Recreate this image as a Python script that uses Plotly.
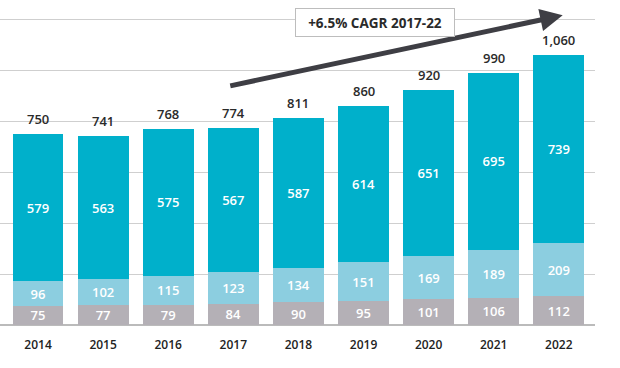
import plotly.graph_objects as go

years = ["2014", "2015", "2016", "2017", "2018", "2019", "2020", "2021", "2022"]
base_vals = [75, 77, 79, 84, 90, 95, 101, 106, 112]
mid_vals = [96, 102, 115, 123, 134, 151, 169, 189, 209]
top_vals = [579, 563, 575, 567, 587, 614, 651, 695, 739]
totals = [750, 741, 768, 774, 811, 860, 920, 990, 1060]
total_labels = ["750", "741", "768", "774", "811", "860", "920", "990", "1,060"]
cagr_label = "+6.5% CAGR 2017-22"

FONT = "Open Sans"
fig = go.Figure()
for vals, color in [(base_vals, "#B4B0B6"), (mid_vals, "#8CCEE0"), (top_vals, "#00B0CB")]:
    fig.add_trace(go.Bar(
        x=years, y=vals, marker=dict(color=color, line=dict(width=0)),
        text=[str(v) for v in vals], textposition="inside", insidetextanchor="middle",
        textangle=0, constraintext="none",
        textfont=dict(color="white", size=13, family=FONT, weight=600), width=0.78,
        showlegend=False, hoverinfo="skip", cliponaxis=False,
    ))

for i, (tot, lab) in enumerate(zip(totals, total_labels)):
    fig.add_annotation(
        x=i, y=tot, xref="x", yref="y", text=lab, showarrow=False,
        yanchor="middle", yshift=15,
        font=dict(color="#2a2a2a", size=13, family=FONT, weight=600),
    )

# CAGR arrow
fig.add_annotation(
    x=8.06, y=1215, ax=2.93, ay=937, xref="x", yref="y", axref="x", ayref="y",
    text="", showarrow=True, arrowhead=2, arrowsize=0.9, arrowwidth=5,
    arrowcolor="#3E3E44", standoff=0, startstandoff=0,
)
fig.add_annotation(
    x=5.18, y=1187, xref="x", yref="y", text="<b>" + cagr_label + "</b>",
    showarrow=False, font=dict(size=13.5, color="#2a2a2a", family=FONT),
    bgcolor="white", bordercolor="#BDBDBD", borderwidth=1, borderpad=4,
    width=150, height=19,
)

fig.update_layout(
    barmode="stack", width=620, height=368, plot_bgcolor="white", paper_bgcolor="white",
    margin=dict(l=0, r=25, t=0, b=43), bargap=0.22,
    xaxis=dict(type="category", range=[-0.584, 8.556], showgrid=False, ticks="", showline=False,
               tickfont=dict(size=12, color="#222", family=FONT, weight=600), zeroline=False,
               ticklabelstandoff=11),
    yaxis=dict(range=[0, 1275], dtick=200, showgrid=True, gridcolor="#CFCFCF", gridwidth=1,
               showticklabels=False, zeroline=True, zerolinecolor="#BBBBBB", zerolinewidth=2),
)
fig.write_html("out.html", config={"displayModeBar": False},
               post_script="document.body.style.margin='0';")
